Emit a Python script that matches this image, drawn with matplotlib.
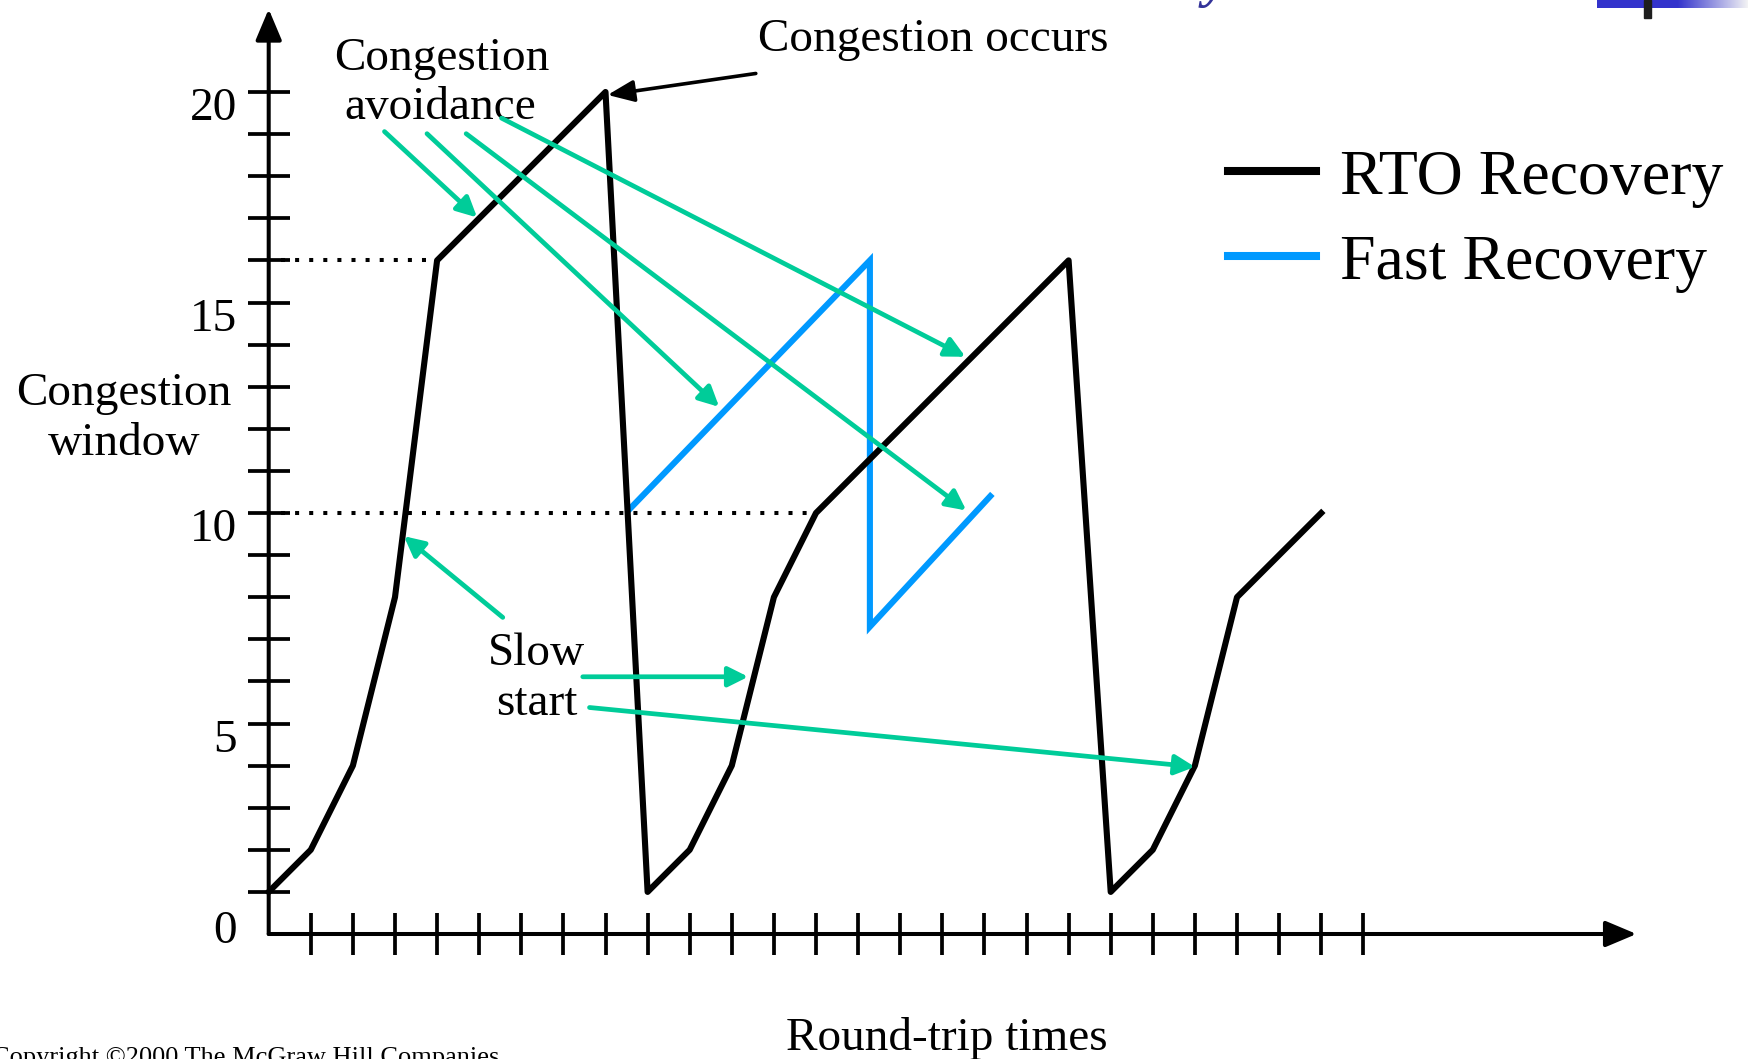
import numpy as np
import matplotlib
matplotlib.use("Agg")
import matplotlib.pyplot as plt
from matplotlib.patches import Rectangle

plt.rcParams["font.family"] = ["Liberation Serif", "DejaVu Serif"]

BLACK = "#000000"
BLUE = "#0099FF"
GREEN = "#00CC99"
NAVY = "#3333CC"

# congestion window (segments) per round trip
rto_rtt = [0, 1, 2, 3, 4, 5, 6, 7, 8, 9, 10, 11, 12, 13, 14, 15, 16, 17, 18, 19, 20, 21, 22, 23, 24, 25]
rto_cwnd = [1, 2, 4, 8, 16, 17, 18, 19, 20, 1, 2, 4, 8, 10, 11, 12, 13, 14, 15, 16, 1, 2, 4, 8, 9, 10]

fast_rtt = [8.58, 14.28, 14.28, 17.14]
fast_cwnd = [10.1, 16, 7.3, 10.4]

# slow-start thresholds and the round trip where each is reached
thresholds = [16, 10]
threshold_reached = [3.8, 12.95]

x_ticks = np.arange(1, 27)
y_ticks = np.arange(1, 21)
y_ticklabels = [0, 5, 10, 15, 20]

# pixel grid: origin at (268.7, 934), 42.1 px per unit
W, H = 1748, 1059
fig = plt.figure(figsize=(W / 100, H / 100), dpi=100)
ax = fig.add_axes([0, 0, 1, 1])
unit, ox, oy = 42.1, 268.7, 934.0
ax.set_xlim(-ox / unit, (W - ox) / unit)
ax.set_ylim((oy - H) / unit, oy / unit)
ax.axis("off")

# axes with arrow heads
axis_arrow = dict(arrowstyle="-|>,head_length=0.95,head_width=0.4", color=BLACK,
                  lw=2.9, mutation_scale=20, shrinkA=0, shrinkB=0)
ax.annotate("", xy=(0, 21.97), xytext=(0, 0), arrowprops=axis_arrow)
ax.annotate("", xy=(32.49, 0), xytext=(0, 0), arrowprops=axis_arrow)
ax.vlines(x_ticks, -0.49, 0.49, color=BLACK, lw=2.7)
ax.hlines(y_ticks, -0.5, 0.5, color=BLACK, lw=2.7)
for v in y_ticklabels:
    ax.text(-0.75, v - 0.67 if v else -0.22, str(v), fontsize=34,
            ha="right", va="baseline")

# threshold guides
for level, reach in zip(thresholds, threshold_reached):
    ax.plot([0.3, reach], [level, level], color=BLACK, lw=2.9,
            linestyle=(0, (1, 2.5)), solid_capstyle="butt")

rto_line, = ax.plot(rto_rtt, rto_cwnd, color=BLACK, lw=4.4,
                    solid_joinstyle="round", zorder=4, label="RTO Recovery")
fast_line, = ax.plot(fast_rtt, fast_cwnd, color=BLUE, lw=4.4,
                     solid_joinstyle="miter", zorder=3, label="Fast Recovery")

green_arrow = dict(arrowstyle="-|>,head_length=0.6,head_width=0.3", color=GREEN,
                   lw=3.4, mutation_scale=20, shrinkA=0, shrinkB=0)

# congestion avoidance callouts
ax.text(4.12, 20.52, "Congestion", fontsize=34, ha="center", va="baseline")
ax.text(4.08, 19.35, "avoidance", fontsize=34, ha="center", va="baseline")
for start, tip in [((2.75, 19.06), (4.95, 17.02)),
                   ((3.76, 19.01), (10.70, 12.52)),
                   ((4.69, 19.01), (16.57, 10.06)),
                   ((5.53, 19.38), (16.55, 13.71))]:
    ax.annotate("", xy=tip, xytext=start, arrowprops=green_arrow, zorder=5)

# slow start callouts
ax.text(6.37, 6.38, "Slow", fontsize=34, ha="center", va="baseline")
ax.text(6.37, 5.2, "start", fontsize=34, ha="center", va="baseline")
for start, tip in [((5.56, 7.52), (3.21, 9.45)),
                   ((7.46, 6.11), (11.39, 6.11)),
                   ((7.62, 5.38), (22.0, 3.97))]:
    ax.annotate("", xy=tip, xytext=start, arrowprops=green_arrow, zorder=5)

# congestion event
ax.text(11.62, 20.97, "Congestion occurs", fontsize=34, ha="left", va="baseline")
ax.annotate("", xy=(8.05, 19.93), xytext=(11.57, 20.44),
            arrowprops=dict(arrowstyle="-|>,head_length=0.8,head_width=0.33",
                            color=BLACK, lw=2.6, mutation_scale=20,
                            shrinkA=0, shrinkB=0))

# axis titles
ax.text(-3.44, 12.57, "Congestion", fontsize=34, ha="center", va="baseline")
ax.text(-3.44, 11.38, "window", fontsize=34, ha="center", va="baseline")
ax.text(16.1, -2.76, "Round-trip times", fontsize=34, ha="center", va="baseline")
ax.text(5.49, -3.09, "Copyright \u00a92000 The McGraw Hill Companies", fontsize=19,
        ha="right", va="baseline")

leg = ax.legend(handles=[rto_line, fast_line], loc="upper left",
                bbox_to_anchor=(1228 / W, 1 - 149 / H), bbox_transform=fig.transFigure,
                frameon=False, fontsize=46, handlelength=1.38, handletextpad=0.38,
                labelspacing=0.41, borderpad=0, borderaxespad=0)
for h in leg.get_lines():
    h.set_linewidth(5.8)

# slide header remnants along the top edge
grad = np.ones((8, 151, 3))
fade = np.clip((np.arange(151) - 80) / 71, 0, 1)
navy = np.array([0x33, 0x33, 0xCC]) / 255
grad[:] = navy[None, None, :] * (1 - fade[None, :, None]) + 0.96 * fade[None, :, None]
fig.figimage(grad, xo=1597, yo=H - 8, origin="upper", zorder=6)
fig.add_artist(Rectangle((1644 / W, 1 - 18 / H), 7 / W, 18 / H,
                         transform=fig.transFigure, color="#1E1E1E", zorder=7))
fig.text(1204 / W, 1 + 4 / H, "y", fontsize=40, style="italic", weight="bold",
         color="#333399", va="baseline")

fig.savefig("out.png", dpi=100)
